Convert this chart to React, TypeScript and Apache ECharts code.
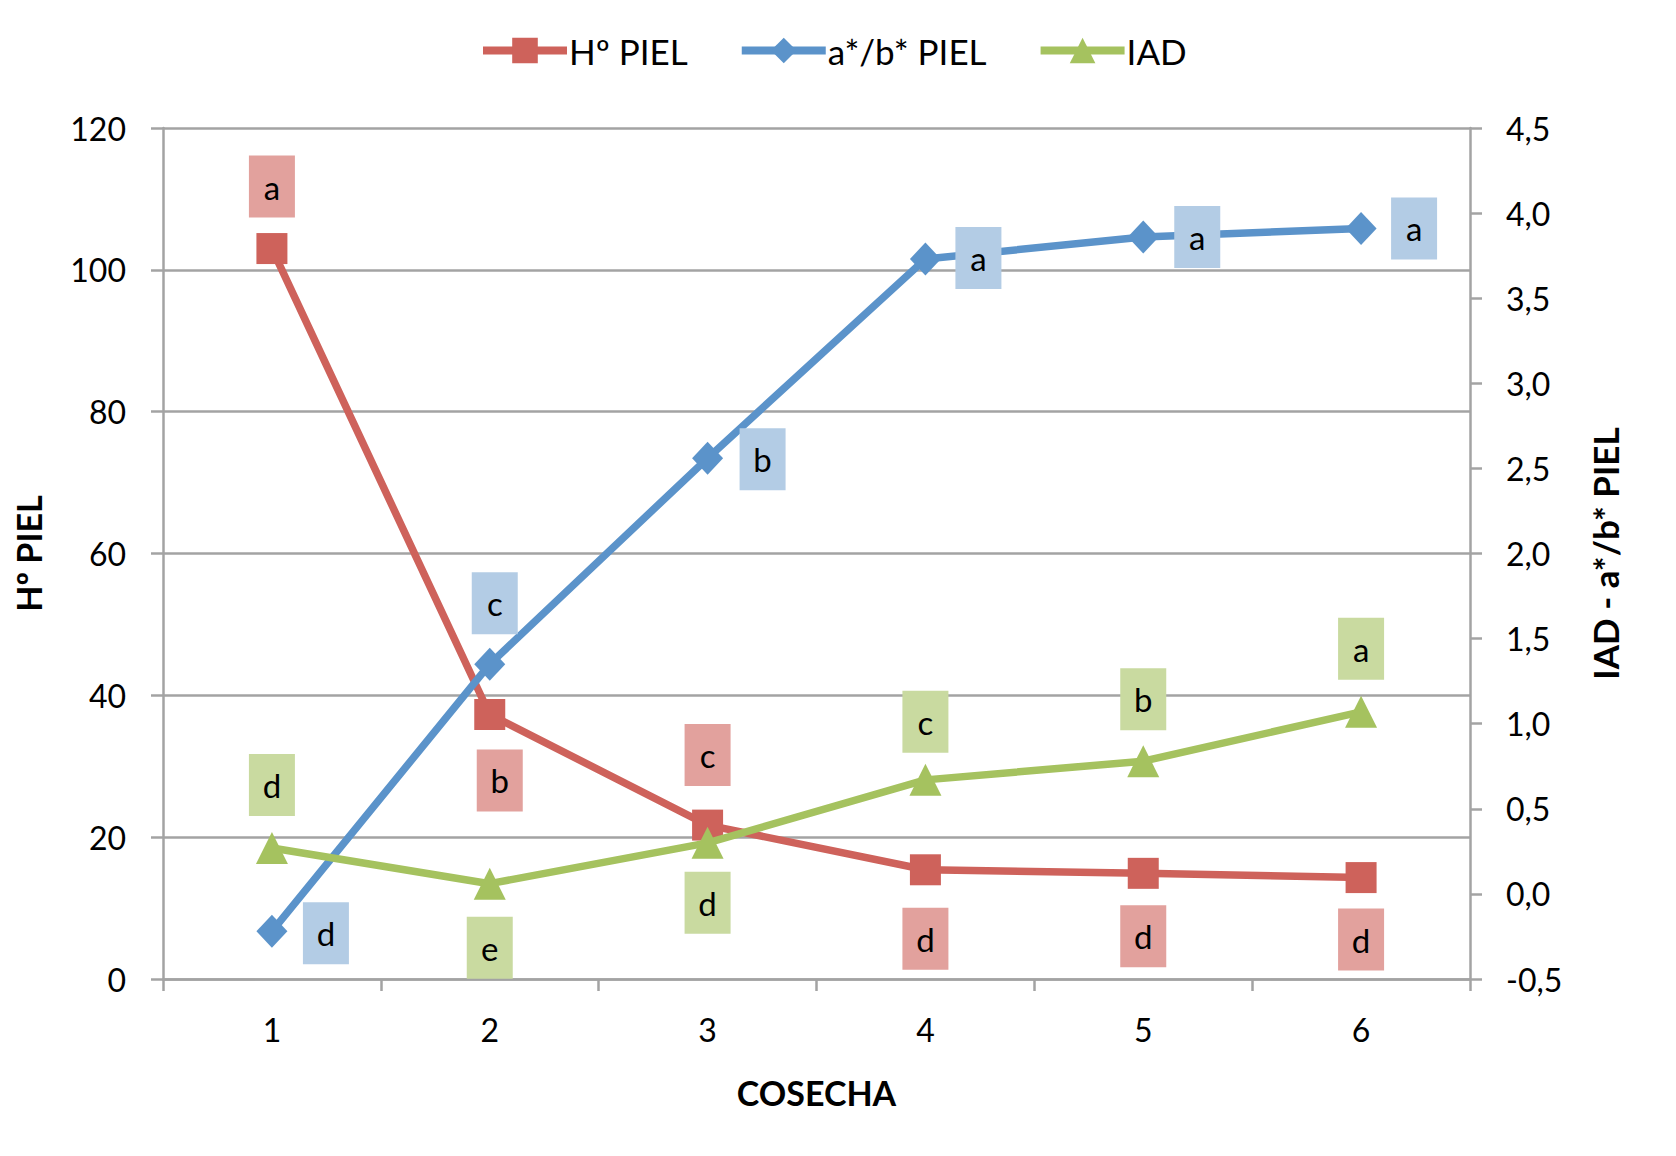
import React, { useEffect, useRef } from "react";
import * as echarts from "echarts";

const categories = ["1", "2", "3", "4", "5", "6"];
const hPiel = [103.0, 37.3, 21.7, 15.4, 14.9, 14.3];
const abPiel = [-0.22, 1.35, 2.56, 3.73, 3.86, 3.91];
const iad = [0.27, 0.06, 0.3, 0.67, 0.78, 1.07];
const hPielLetters = ["a", "b", "c", "d", "d", "d"];
const abPielLetters = ["d", "c", "b", "a", "a", "a"];
const iadLetters = ["d", "e", "d", "c", "b", "a"];

// label placement (pixel offsets from the point)
const hPielOffsets = [[0, -62], [10, 66], [0, -70], [0, 69], [0, 63], [0, 62]];
const abPielOffsets = [[54, 2], [5, -61], [55, 1], [53, -1], [54, 0], [53, 0]];
const iadOffsets = [[0, -63], [0, 64], [0, 60], [0, -58], [0, -62], [0, -63]];

const FONT = "Lato";
const GRID_COLOR = "#A3A3A3";

function makeData(values: number[], letters: string[], offsets: number[][], boxColor: string) {
  return values.map((v, i) => ({
    value: v,
    label: {
      show: true,
      position: "inside",
      offset: offsets[i],
      formatter: letters[i],
      backgroundColor: boxColor,
      width: 46,
      height: 62,
      lineHeight: 62,
      align: "center",
      verticalAlign: "middle",
      color: "#000",
      fontFamily: FONT,
      fontSize: 33,
    },
  }));
}

export default function App() {
  const ref = useRef<HTMLDivElement>(null);
  useEffect(() => {
    if (!ref.current) return;
    const chart = echarts.init(ref.current, null, { renderer: "svg" });
    const red = "#CE625B";
    const blue = "#5B93CA";
    const green = "#A5C25F";
    chart.setOption({
      animation: false,
      backgroundColor: "#fff",
      textStyle: { fontFamily: FONT },
      legend: {
        top: 28,
        left: 474,
        itemWidth: 84,
        itemHeight: 32,
        itemGap: 50,
        lineStyle: { width: 8 },
        textStyle: { fontFamily: FONT, fontSize: 35, color: "#000", padding: [0, 0, 0, -3] },
        data: ["Hº PIEL", "a*/b* PIEL", "IAD"],
      },
      grid: { left: 163, right: 206, top: 128, bottom: 177, containLabel: false },
      xAxis: {
        type: "category",
        data: categories,
        boundaryGap: true,
        name: "COSECHA",
        nameLocation: "middle",
        nameGap: 96,
        nameTextStyle: { fontFamily: FONT, fontSize: 34, fontWeight: "bold", color: "#000" },
        axisLine: { show: true, lineStyle: { color: GRID_COLOR, width: 2.5 } },
        axisTick: { show: true, length: 12, alignWithLabel: false, lineStyle: { color: GRID_COLOR, width: 2.5 } },
        axisLabel: { margin: 34, fontFamily: FONT, fontSize: 32, color: "#000" },
      },
      yAxis: [
        {
          type: "value",
          min: 0,
          max: 120,
          interval: 20,
          position: "left",
          name: "Hº PIEL",
          nameLocation: "middle",
          nameGap: 118,
          nameRotate: 90,
          nameTextStyle: { fontFamily: FONT, fontSize: 34, fontWeight: "bold", color: "#000" },
          axisLine: { show: true, lineStyle: { color: GRID_COLOR, width: 2.5 } },
          axisTick: { show: true, length: 12, lineStyle: { color: GRID_COLOR, width: 2.5 } },
          splitLine: { show: true, lineStyle: { color: GRID_COLOR, width: 2.5 } },
          axisLabel: { margin: 37, fontFamily: FONT, fontSize: 32, color: "#000" },
        },
        {
          type: "value",
          min: -0.5,
          max: 4.5,
          interval: 0.5,
          position: "right",
          name: "IAD - a*/b* PIEL",
          nameLocation: "middle",
          nameGap: 117,
          nameRotate: 90,
          nameTextStyle: { fontFamily: FONT, fontSize: 35, fontWeight: "bold", color: "#000" },
          axisLine: { show: true, lineStyle: { color: GRID_COLOR, width: 2.5 } },
          axisTick: { show: true, length: 12, lineStyle: { color: GRID_COLOR, width: 2.5 } },
          splitLine: { show: false },
          axisLabel: {
            margin: 36,
            fontFamily: FONT,
            fontSize: 32,
            color: "#000",
            formatter: (v: number) => v.toFixed(1).replace(".", ","),
          },
        },
      ],
      series: [
        {
          name: "Hº PIEL",
          type: "line",
          yAxisIndex: 0,
          symbol: "rect",
          symbolSize: 31,
          lineStyle: { color: red, width: 7.5 },
          itemStyle: { color: red },
          data: makeData(hPiel, hPielLetters, hPielOffsets, "#E2A19D"),
          z: 2,
        },
        {
          name: "a*/b* PIEL",
          type: "line",
          yAxisIndex: 1,
          symbol: "diamond",
          symbolSize: [31, 33],
          lineStyle: { color: blue, width: 7.5 },
          itemStyle: { color: blue },
          data: makeData(abPiel, abPielLetters, abPielOffsets, "#B3CCE5"),
          z: 3,
        },
        {
          name: "IAD",
          type: "line",
          yAxisIndex: 1,
          symbol: "triangle",
          symbolSize: 32,
          lineStyle: { color: green, width: 7.5 },
          itemStyle: { color: green },
          data: makeData(iad, iadLetters, iadOffsets, "#C9DAA0"),
          z: 4,
        },
      ],
    });
    return () => chart.dispose();
  }, []);
  return (
    <div
      ref={ref}
      style={{ position: "fixed", left: 0, top: 0, width: 1676, height: 1156, background: "#fff" }}
    />
  );
}
